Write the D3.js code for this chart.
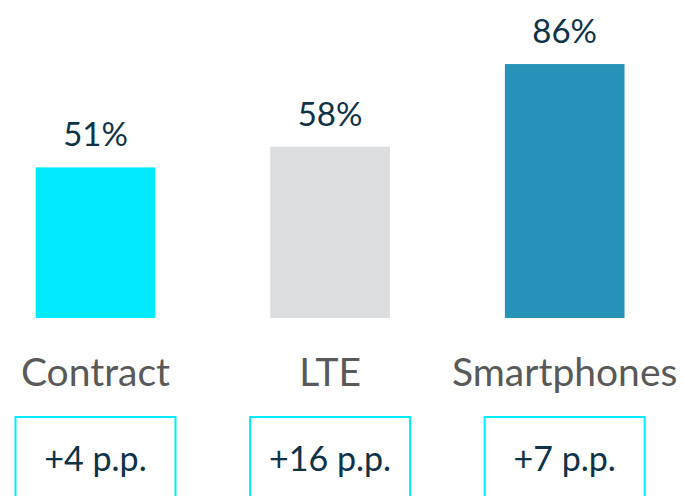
<!DOCTYPE html>
<html>
<head>
<meta charset="utf-8">
<script src="https://cdn.jsdelivr.net/npm/d3@7"></script>
<style>
  body { margin: 0; background: #fff; }
  svg { display: block; }
</style>
</head>
<body>
<div class="vis-bars"></div>
<script>
const categories = ['Contract', 'LTE', 'Smartphones'];
const values = [51, 58, 86];
const changes = ['+4 p.p.', '+16 p.p.', '+7 p.p.'];
const colors = ['#00EAFE', '#DCDDDF', '#2793B8'];

const width = 684, height = 496;
const font = 'Lato, "Open Sans", sans-serif';

const svg = d3.select('.vis-bars')
    .append('svg')
    .attr('width', width)
    .attr('height', height);

const x = d3.scaleBand()
    .domain(categories)
    .range([-21.8, 682])
    .paddingInner(0.49)
    .paddingOuter(0.245);

const y = d3.scaleLinear()
    .domain([0, 100])
    .range([318, 22.7]);

const data = categories.map((c, i) => ({ cat: c, value: values[i], change: changes[i], color: colors[i] }));

// bars
svg.selectAll('rect.bar')
    .data(data)
    .enter().append('rect')
    .attr('class', 'bar')
    .attr('x', d => x(d.cat))
    .attr('y', d => y(d.value))
    .attr('width', x.bandwidth())
    .attr('height', d => y(0) - y(d.value))
    .attr('fill', d => d.color);

// value labels
svg.selectAll('text.val')
    .data(data)
    .enter().append('text')
    .attr('class', 'val')
    .attr('x', d => x(d.cat) + x.bandwidth() / 2)
    .attr('y', d => y(d.value) - 21)
    .attr('text-anchor', 'middle')
    .style('font-family', font)
    .style('font-size', '33px')
    .attr('fill', '#0E3347')
    .text(d => d.value + '%');

// category labels
svg.selectAll('text.cat')
    .data(data)
    .enter().append('text')
    .attr('class', 'cat')
    .attr('x', d => x(d.cat) + x.bandwidth() / 2)
    .attr('y', 386)
    .attr('text-anchor', 'middle')
    .style('font-family', font)
    .style('font-size', '39px')
    .attr('fill', '#595959')
    .text(d => d.cat);

// change boxes
const boxW = 160;
const boxes = svg.selectAll('g.box')
    .data(data)
    .enter().append('g')
    .attr('class', 'box')
    .attr('transform', d => 'translate(' + (x(d.cat) + x.bandwidth() / 2) + ',417)');

boxes.append('rect')
    .attr('x', -boxW / 2)
    .attr('y', 0)
    .attr('width', boxW)
    .attr('height', 100)
    .attr('fill', 'none')
    .attr('stroke', '#00EAFE')
    .attr('stroke-width', 2);

boxes.append('text')
    .attr('x', 0)
    .attr('y', 54)
    .attr('text-anchor', 'middle')
    .style('font-family', font)
    .style('font-size', '34px')
    .attr('fill', '#0E3347')
    .text(d => d.change);
</script>
</body>
</html>
